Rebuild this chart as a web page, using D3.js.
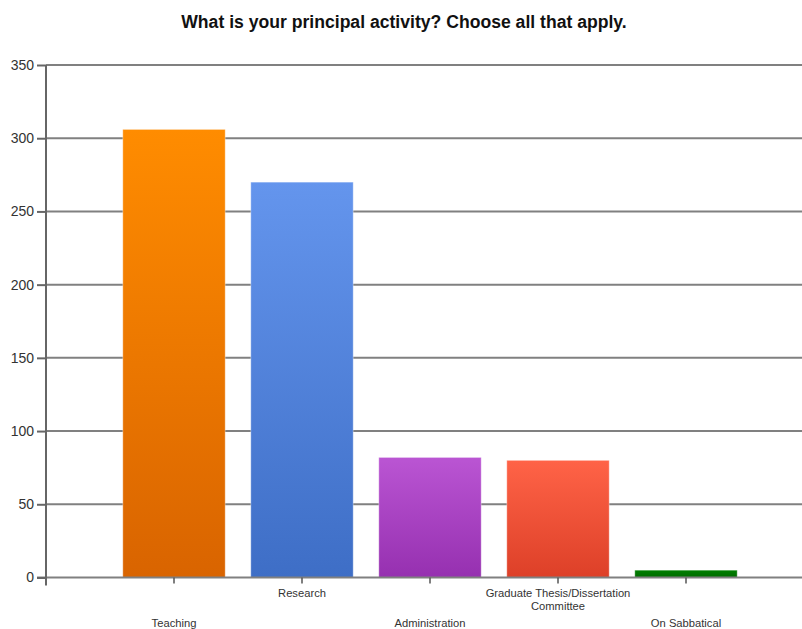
<!DOCTYPE html>
<html>
<head>
<meta charset="utf-8">
<script src="https://cdn.jsdelivr.net/npm/d3@7"></script>
<style>
  html, body { margin: 0; padding: 0; background: #fff; }
  svg { display: block; font-family: Arial, "Liberation Sans", sans-serif; }
</style>
</head>
<body>
<svg id="chart" width="802" height="629"></svg>
<script>
// Survey responses: principal activity (multiple answers allowed)
const categories = ["Teaching", "Research", "Administration", "Graduate Thesis/Dissertation Committee", "On Sabbatical"];
const labelLines = [["Teaching"], ["Research"], ["Administration"], ["Graduate Thesis/Dissertation", "Committee"], ["On Sabbatical"]];
const responses = [306, 270, 82, 80, 5];
const yTicks = [0, 50, 100, 150, 200, 250, 300, 350];
const topColors = ["#ff8c00", "#6495ed", "#ba55d3", "#ff6347", "#008000"];
const bottomColors = ["#d96400", "#3e6ec6", "#9630b0", "#dd4028", "#006a00"];

const svg = d3.select("#chart");
const plotLeft = 46, plotBottom = 577.5, plotTop = 65;

// Category slots sit at integer positions 1..5 along an axis spanning 0..6
const x = d3.scaleLinear().domain([0, 6]).range([plotLeft, 814]);
const slot = x(1) - x(0);
const barW = slot * 0.8;
const y = d3.scaleLinear().domain([0, 350]).range([plotBottom, plotTop]);

// Gradients for each bar
const defs = svg.append("defs");
categories.forEach((c, i) => {
  const g = defs.append("linearGradient")
    .attr("id", "grad" + i).attr("x1", 0).attr("y1", 0).attr("x2", 0).attr("y2", 1);
  g.append("stop").attr("offset", "0%").attr("stop-color", topColors[i]);
  g.append("stop").attr("offset", "100%").attr("stop-color", bottomColors[i]);
});

// Title
svg.append("text")
  .attr("x", 404).attr("y", 28)
  .attr("text-anchor", "middle")
  .attr("font-size", 17.6).attr("font-weight", "bold").attr("fill", "#111")
  .text("What is your principal activity? Choose all that apply.");

// Horizontal gridlines
svg.append("g").selectAll("line").data(yTicks.filter(d => d > 0)).join("line")
  .attr("x1", plotLeft).attr("x2", 802)
  .attr("y1", d => y(d)).attr("y2", d => y(d))
  .attr("stroke", "#808080").attr("stroke-width", 2);

// Bars
svg.append("g").selectAll("rect").data(responses).join("rect")
  .attr("x", (d, i) => x(i + 1) - barW / 2)
  .attr("width", barW)
  .attr("y", d => y(d))
  .attr("height", d => y(0) - y(d))
  .attr("fill", (d, i) => `url(#grad${i})`)
  .attr("stroke", "rgba(255,255,255,0.35)").attr("stroke-width", 1);

// X axis baseline and ticks
svg.append("line")
  .attr("x1", plotLeft - 9).attr("x2", 802)
  .attr("y1", y(0)).attr("y2", y(0))
  .attr("stroke", "#808080").attr("stroke-width", 2);
svg.append("g").selectAll("line").data(categories).join("line")
  .attr("x1", (d, i) => x(i + 1)).attr("x2", (d, i) => x(i + 1))
  .attr("y1", y(0)).attr("y2", y(0) + 6)
  .attr("stroke", "#555").attr("stroke-width", 1.5);

// Y axis
const yAxis = d3.axisLeft(y).tickValues(yTicks).tickSize(9).tickPadding(3);
const yg = svg.append("g").attr("transform", `translate(${plotLeft},0)`).call(yAxis);
yg.select(".domain").remove();
yg.selectAll(".tick line").attr("stroke", "#666").attr("stroke-width", 2);
yg.selectAll(".tick text").attr("font-size", 14).attr("fill", "#333")
  .attr("font-family", "Arial, 'Liberation Sans', sans-serif");
svg.append("line")
  .attr("x1", plotLeft).attr("x2", plotLeft)
  .attr("y1", plotTop).attr("y2", y(0) + 8)
  .attr("stroke", "#666").attr("stroke-width", 2);

// Category labels, staggered on two rows
const labels = svg.append("g").selectAll("text").data(labelLines).join("text")
  .attr("text-anchor", "middle")
  .attr("font-size", 11.2).attr("fill", "#333")
  .attr("transform", (d, i) => `translate(${x(i + 1)},${i % 2 === 0 ? 627 : 597})`);
labels.selectAll("tspan").data(d => d).join("tspan")
  .attr("x", 0).attr("dy", (d, j) => j === 0 ? 0 : 13)
  .text(d => d);
</script>
</body>
</html>
